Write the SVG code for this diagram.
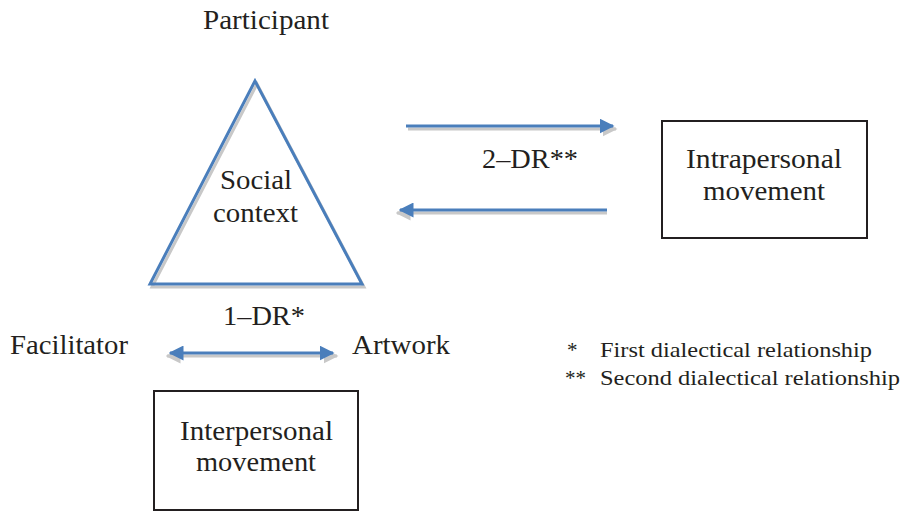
<svg xmlns="http://www.w3.org/2000/svg" width="904" height="512" viewBox="0 0 904 512">
<defs>
<style>
text{font-family:'Liberation Serif','DejaVu Serif',serif;fill:#231f20}
.t{font-size:27px}
.l{font-size:21px}
.blue{stroke:#4a7ebb;stroke-width:3;fill:none}
.sh{stroke:#c8c8c8;stroke-width:3;fill:none}
.box{stroke:#231f20;stroke-width:2;fill:#fff}
</style>
<marker id="ah" viewBox="0 0 10 10" refX="9" refY="5" markerWidth="5" markerHeight="5" orient="auto-start-reverse" markerUnits="strokeWidth"><path d="M0,0 L10,5 L0,10 z" fill="#4a7ebb"/></marker>
<marker id="ahs" viewBox="0 0 10 10" refX="9" refY="5" markerWidth="5" markerHeight="5" orient="auto-start-reverse" markerUnits="strokeWidth"><path d="M0,0 L10,5 L0,10 z" fill="#c8c8c8"/></marker>
</defs>
<rect width="904" height="512" fill="#fff"/>
<g id="participant-label"><text class="t" x="203" y="29" textLength="126" lengthAdjust="spacingAndGlyphs">Participant</text></g>
<g id="social-context">
<polygon points="257,84 152,287 364,287" class="sh"/>
<polygon points="255,81 150,284 362,284" class="blue"/>
<text class="t" x="220" y="189" textLength="72" lengthAdjust="spacingAndGlyphs">Social</text>
<text class="t" x="213" y="222" textLength="85" lengthAdjust="spacingAndGlyphs">context</text>
</g>
<g id="intrapersonal">
<rect x="662" y="121" width="205" height="117" class="box"/>
<text class="t" x="686" y="168" textLength="156" lengthAdjust="spacingAndGlyphs">Intrapersonal</text>
<text class="t" x="703" y="200" textLength="122" lengthAdjust="spacingAndGlyphs">movement</text>
</g>
<g id="interpersonal">
<rect x="154" y="391" width="204" height="119" class="box"/>
<text class="t" x="180" y="440" textLength="153" lengthAdjust="spacingAndGlyphs">Interpersonal</text>
<text class="t" x="196" y="471" textLength="120" lengthAdjust="spacingAndGlyphs">movement</text>
</g>
<g id="labels">
<text class="t" x="223" y="325" textLength="82" lengthAdjust="spacingAndGlyphs">1–DR*</text>
<text class="t" x="482" y="168" textLength="96" lengthAdjust="spacingAndGlyphs">2–DR**</text>
<text class="t" x="10" y="354" textLength="118" lengthAdjust="spacingAndGlyphs">Facilitator</text>
<text class="t" x="352" y="354" textLength="98" lengthAdjust="spacingAndGlyphs">Artwork</text>
<text class="l" x="567" y="357">*</text>
<text class="l" x="600" y="357" textLength="272" lengthAdjust="spacingAndGlyphs">First dialectical relationship</text>
<text class="l" x="565" y="385">**</text>
<text class="l" x="600" y="385" textLength="300" lengthAdjust="spacingAndGlyphs">Second dialectical relationship</text>
</g>
<g id="connectors">
<line x1="408" y1="129" x2="616" y2="129" class="sh" marker-end="url(#ahs)"/>
<line x1="406" y1="126" x2="613" y2="126" class="blue" marker-end="url(#ah)"/>
<line x1="397" y1="213" x2="607" y2="213" class="sh" marker-start="url(#ahs)"/>
<line x1="400" y1="210" x2="607" y2="210" class="blue" marker-start="url(#ah)"/>
<line x1="167" y1="356" x2="337" y2="356" class="sh" marker-start="url(#ahs)" marker-end="url(#ahs)"/>
<line x1="170" y1="353" x2="333" y2="353" class="blue" marker-start="url(#ah)" marker-end="url(#ah)"/>
</g>
</svg>
